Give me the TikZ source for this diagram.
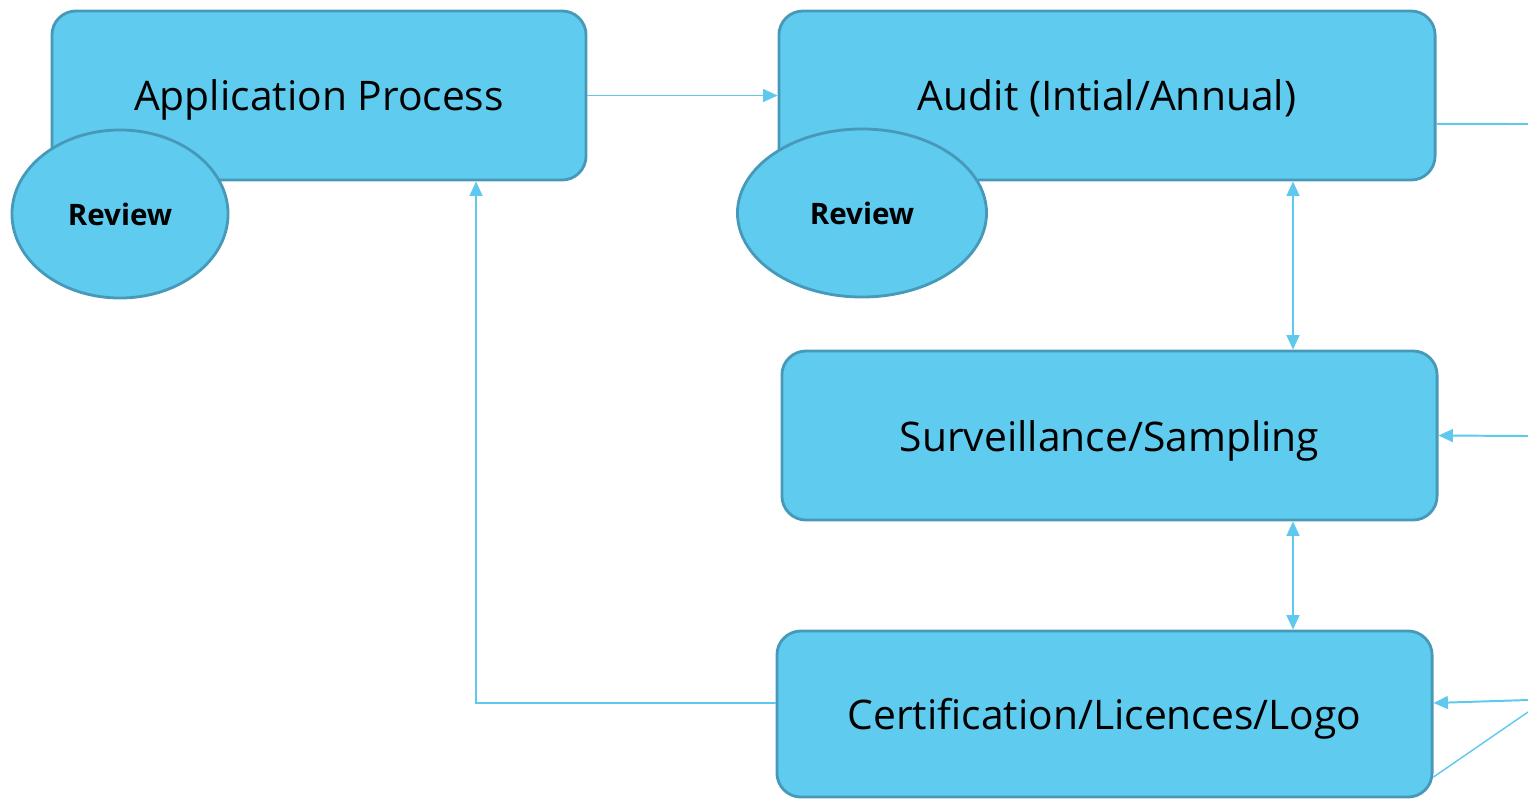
\documentclass[tikz,border=0pt]{standalone}
\usepackage{fontspec}
\setmainfont{Open Sans}
\usetikzlibrary{shapes.geometric,arrows.meta}
\definecolor{boxfill}{RGB}{95,203,239}
\definecolor{boxline}{RGB}{70,153,184}
\definecolor{flowcol}{RGB}{94,200,238}
\begin{document}
\begin{tikzpicture}[x={(0.025cm,0cm)}, y={(0cm,-0.025cm)}]
%styles des noeuds
\tikzstyle{etape}=[rectangle, rounded corners=0.6cm, draw=boxline, line width=2pt, fill=boxfill, inner sep=0pt, text=black, text depth=0pt, font=\fontsize{29}{33}\selectfont]
\tikzstyle{revue}=[ellipse, draw=boxline, line width=2pt, fill=boxfill, inner sep=0pt, minimum height=4.2cm, text=black, font=\fontsize{21}{25}\selectfont\bfseries]
\tikzstyle{flow}=[-{Triangle[length=0.36cm,width=0.32cm]}, draw=flowcol, line width=1.4pt]
\tikzstyle{flow2}=[{Triangle[length=0.36cm,width=0.32cm]}-{Triangle[length=0.36cm,width=0.32cm]}, draw=flowcol, line width=1.4pt]
\useasboundingbox (0,0) rectangle (1528,798);
%figure
\node[etape, minimum width=13.35cm, minimum height=4.225cm] (app) at (319,95.5) {Application Process};
\node[etape, minimum width=16.4cm, minimum height=4.225cm] (audit) at (1107,95.5) {Audit (Intial/Annual)};
\node[etape, minimum width=16.375cm, minimum height=4.225cm] (surv) at (1109.5,435.5) {Surveillance/Sampling};
\node[etape, minimum width=16.375cm, minimum height=4.15cm] (cert) at (1104.5,714) {Certification/Licences/Logo};
% review
\node[revue, minimum width=5.4cm] (rev1) at (120,214) {Review};
\node[revue, minimum width=6.225cm] (rev2) at (862,213) {Review};
% bord droit
\coordinate (eB) at (1528,124);
\coordinate (eC) at (1528,436);
\coordinate (eD) at (1528,700);
\coordinate (eE) at (1528,712);
%fleches
\draw[flow] (app.east) -- (audit.west);
\draw[flow2] (audit.south -| 1293,0) -- (surv.north -| 1293,0);
\draw[flow2] (surv.south -| 1293,0) -- (cert.north -| 1293,0);
\draw[flow] ([yshift=0.275cm]cert.west) -| ([xshift=3.925cm]app.south);
\draw[flowcol, line width=1.4pt] ([yshift=-0.71cm]audit.east) -- (eB);
\draw[flow] (eC) -- (surv.east);
\draw[flow] (eD) -- ([yshift=0.275cm]cert.east);
\draw[flowcol, line width=1pt] ([yshift=-1.575cm]cert.east) -- (eE);
\end{tikzpicture}
\end{document}
